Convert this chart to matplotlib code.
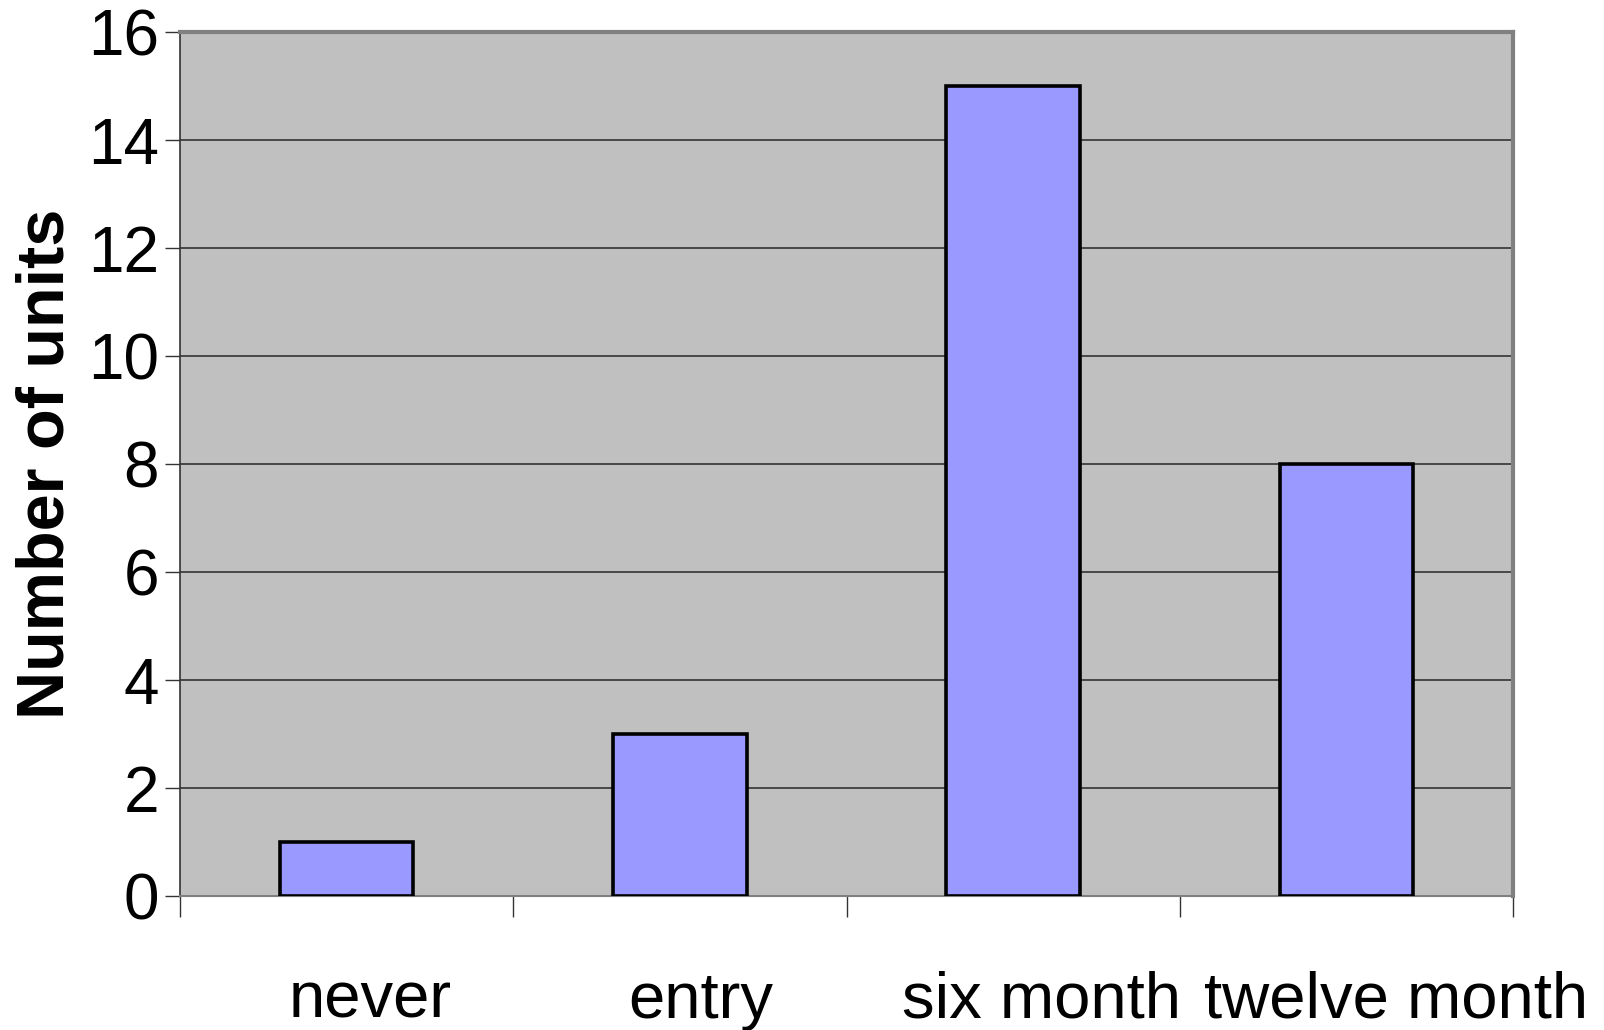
import matplotlib.pyplot as plt
import matplotlib.transforms as mtransforms
import numpy as np

plt.rcParams["font.family"] = ["Liberation Sans", "DejaVu Sans"]

categories = ["never", "entry", "six month", "twelve month"]
units = [1, 3, 15, 8]

fig = plt.figure(figsize=(16.04, 10.30), dpi=100)
ax = fig.add_axes([180 / 1604, 1 - 896 / 1030, (1513 - 180) / 1604, (896 - 32) / 1030])

x = np.arange(len(categories))
ax.bar(x, units, width=0.4, color="#9999FF", edgecolor="black", linewidth=2.6, zorder=3)

ax.set_facecolor("#C0C0C0")
ax.set_xlim(-0.5, len(categories) - 0.5)
ax.set_ylim(0, 16)
ax.set_yticks(np.arange(0, 17, 2))
ax.yaxis.grid(True, color="#333333", linewidth=1.2, zorder=1)
ax.set_axisbelow(True)

# category separators as ticks, labels sit between them
ax.set_xticks(np.arange(-0.5, len(categories), 1))
ax.set_xticklabels([])
ax.set_xticks(x, minor=True)
ax.set_xticklabels(categories, minor=True, fontsize=47)
ax.tick_params(axis="x", which="major", length=15, width=1.0, color="#333333", direction="out")
ax.tick_params(axis="x", which="minor", length=0, pad=54)
# nudge the category labels right (pixels), the last one a bit further
label_shift = [24, 21, 28, 50]
for lab, dx in zip(ax.get_xticklabels(minor=True), label_shift):
    lab.set_transform(lab.get_transform()
                      + mtransforms.ScaledTranslation(dx / 100, 0, fig.dpi_scale_trans))

ax.tick_params(axis="y", length=11, width=1.0, color="#333333", pad=4, labelsize=46)

ax.spines["top"].set_color("#808080")
ax.spines["top"].set_linewidth(3.0)
ax.spines["right"].set_color("#808080")
ax.spines["right"].set_linewidth(3.0)
ax.spines["bottom"].set_color("#808080")
ax.spines["bottom"].set_linewidth(1.5)
ax.spines["left"].set_color("#333333")
ax.spines["left"].set_linewidth(1.2)

ax.set_ylabel("Number of units", fontsize=48, fontweight="bold")
ax.yaxis.set_label_coords(-102 / 1333, 0.5)

fig.savefig("out.png", dpi=100, facecolor="white")
